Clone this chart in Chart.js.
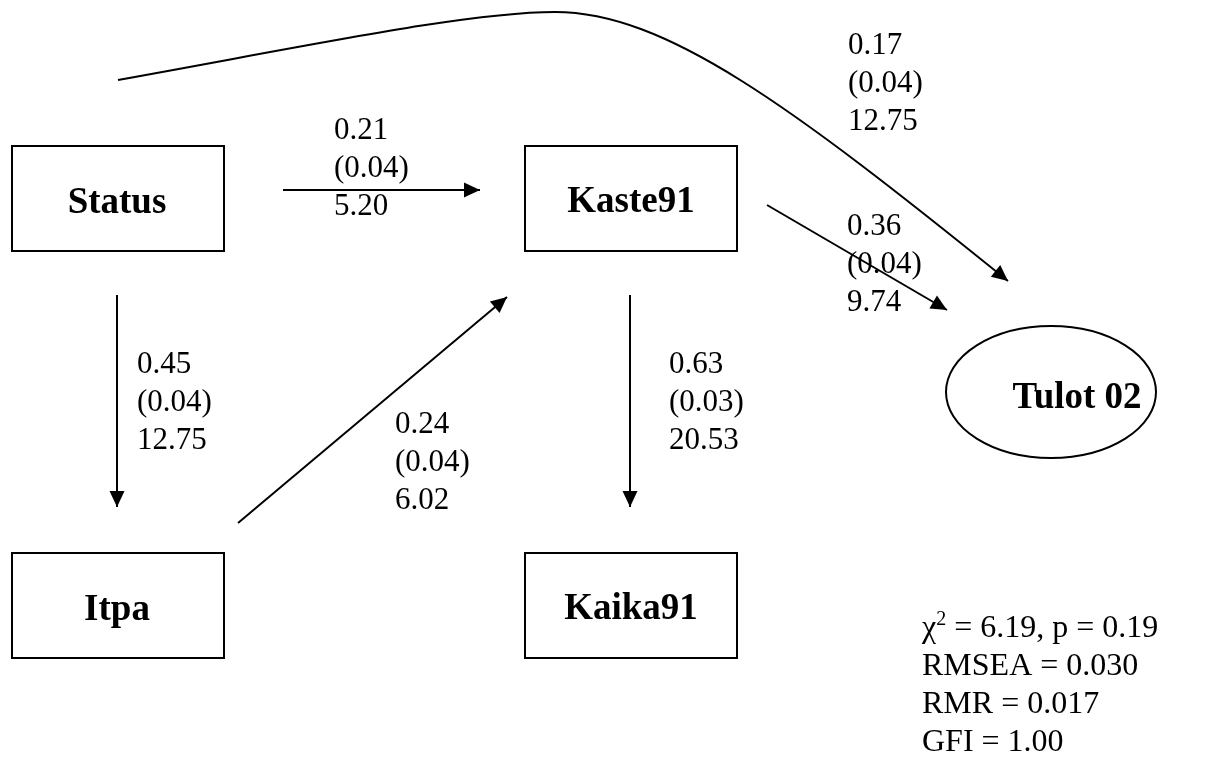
<!DOCTYPE html>
<html lang="en">
<head>
  <meta charset="UTF-8">
  <title>Path model – Tulot 02</title>
  <script src="https://cdn.jsdelivr.net/npm/chart.js"></script>
  <style>
    * { margin:0; padding:0; box-sizing:border-box; }
    html,body { width:100%; height:100%; overflow:hidden; background:#fff; }
    #wrap { position:relative; width:1208px; height:758px; }
  </style>
</head>
<body>
  <div id="wrap"><canvas id="chart" width="1208" height="758"></canvas></div>

  <script>
    // model data
    const nodeNames = ['Status', 'Kaste91', 'Itpa', 'Kaika91', 'Tulot 02'];
    const pathFrom  = ['Status', 'Status', 'Itpa', 'Kaste91', 'Kaste91', 'Status'];
    const pathTo    = ['Kaste91', 'Itpa', 'Kaste91', 'Kaika91', 'Tulot 02', 'Tulot 02'];
    const coefs     = ['0.21', '0.45', '0.24', '0.63', '0.36', '0.17'];
    const stdErrs   = ['0.04', '0.04', '0.04', '0.03', '0.04', '0.04'];
    const tValues   = ['5.20', '12.75', '6.02', '20.53', '9.74', '12.75'];
    const fitLines  = ['RMSEA = 0.030', 'RMR = 0.017', 'GFI = 1.00'];
    const chiSq = '6.19', pValue = '0.19';

    // layout (diagram units, same as the hidden axes); ty = text baseline
    const nodeBox = {
      'Status':  { x1:12,  y1:146, x2:224, y2:251, tx:117, ty:213 },
      'Kaste91': { x1:525, y1:146, x2:737, y2:251, tx:631, ty:212 },
      'Itpa':    { x1:12,  y1:553, x2:224, y2:658, tx:117, ty:620 },
      'Kaika91': { x1:525, y1:553, x2:737, y2:658, tx:631, ty:619 }
    };
    const nodeEllipse = { 'Tulot 02': { cx:1051, cy:392, rx:105, ry:66, tx:1077, ty:408 } };

    // arrow ends and label anchor (left x, first baseline) per path, same order as pathFrom
    const pathGeom = [
      { p:[283,190, 480,190], lx:334, ly:139 },
      { p:[117,295, 117,507], lx:137, ly:373 },
      { p:[238,523, 507,297], lx:395, ly:433 },
      { p:[630,295, 630,507], lx:669, ly:373 },
      { p:[767,205, 947,310], lx:847, ly:235 },
      { p:[118,80, 555,12], c:[318,44, 470,12],
        p2:[1008,281], c2:[665,12, 790,105], lx:848, ly:54 }
    ];
    const fitX = 922, fitY = 637, lineGap = 38;

    const serif = '"Liberation Serif", "Times New Roman", serif';

    const diagram = {
      id: 'diagram',
      afterDatasetsDraw(chart) {
        const ctx = chart.ctx;
        const sx = v => chart.scales.x.getPixelForValue(v);
        const sy = v => chart.scales.y.getPixelForValue(v);
        ctx.save();
        ctx.strokeStyle = '#000';
        ctx.fillStyle = '#000';
        ctx.lineWidth = 2;

        // nodes
        nodeNames.forEach(n => {
          ctx.font = 'bold 37px ' + serif;
          ctx.textAlign = 'center';
          ctx.textBaseline = 'alphabetic';
          if (nodeBox[n]) {
            const b = nodeBox[n];
            ctx.strokeRect(sx(b.x1), sy(b.y1), sx(b.x2) - sx(b.x1), sy(b.y2) - sy(b.y1));
            ctx.fillText(n, sx(b.tx), sy(b.ty));
          } else {
            const e = nodeEllipse[n];
            ctx.beginPath();
            ctx.ellipse(sx(e.cx), sy(e.cy), sx(e.cx + e.rx) - sx(e.cx), Math.abs(sy(e.cy + e.ry) - sy(e.cy)), 0, 0, Math.PI * 2);
            ctx.stroke();
            ctx.fillText(n, sx(e.tx), sy(e.ty));
          }
        });

        // arrows
        const head = (x, y, ang) => {
          const L = 16, W = 7.5;
          ctx.beginPath();
          ctx.moveTo(x, y);
          ctx.lineTo(x - L * Math.cos(ang) + W * Math.sin(ang), y - L * Math.sin(ang) - W * Math.cos(ang));
          ctx.lineTo(x - L * Math.cos(ang) - W * Math.sin(ang), y - L * Math.sin(ang) + W * Math.cos(ang));
          ctx.closePath();
          ctx.fill();
        };
        ctx.lineWidth = 2;
        pathGeom.forEach((g, i) => {
          const x0 = sx(g.p[0]), y0 = sy(g.p[1]);
          let x1 = sx(g.p[2]), y1 = sy(g.p[3]);
          ctx.beginPath();
          ctx.moveTo(x0, y0);
          let ang;
          if (g.c) {
            ctx.bezierCurveTo(sx(g.c[0]), sy(g.c[1]), sx(g.c[2]), sy(g.c[3]), x1, y1);
            const c2x = sx(g.c2[2]), c2y = sy(g.c2[3]);
            const ex = sx(g.p2[0]), ey = sy(g.p2[1]);
            ctx.bezierCurveTo(sx(g.c2[0]), sy(g.c2[1]), c2x, c2y, ex, ey);
            ang = Math.atan2(ey - c2y, ex - c2x);
            x1 = ex; y1 = ey;
          } else {
            ctx.lineTo(x1, y1);
            ang = Math.atan2(y1 - y0, x1 - x0);
          }
          ctx.stroke();
          head(x1, y1, ang);

          ctx.font = '31px ' + serif;
          ctx.textAlign = 'left';
          ctx.textBaseline = 'alphabetic';
          [coefs[i], '(' + stdErrs[i] + ')', tValues[i]].forEach((t, k) => {
            ctx.fillText(t, sx(g.lx), sy(g.ly + k * lineGap));
          });
        });

        // fit statistics
        ctx.font = '32px ' + serif;
        ctx.textAlign = 'left';
        ctx.textBaseline = 'alphabetic';
        let x = sx(fitX);
        const y = sy(fitY);
        ctx.fillText('\u03C7', x, y);
        x += ctx.measureText('\u03C7').width;
        ctx.font = '20px ' + serif;
        ctx.fillText('2', x, y - 12);
        x += ctx.measureText('2').width;
        ctx.font = '32px ' + serif;
        ctx.fillText(' = ' + chiSq + ', p = ' + pValue, x, y);
        fitLines.forEach((t, k) => ctx.fillText(t, sx(fitX), sy(fitY + (k + 1) * lineGap)));
        ctx.restore();
      }
    };

    new Chart(document.getElementById('chart'), {
      type: 'scatter',
      data: { datasets: [{ data: [], pointRadius: 0 }] },
      options: {
        responsive: false,
        animation: false,
        devicePixelRatio: 1,
        layout: { padding: 0 },
        plugins: { legend: { display: false }, tooltip: { enabled: false } },
        scales: {
          x: { type: 'linear', min: 0, max: 1208, display: false },
          y: { type: 'linear', min: 0, max: 758, reverse: true, display: false }
        }
      },
      plugins: [diagram]
    });
  </script>
</body>
</html>
